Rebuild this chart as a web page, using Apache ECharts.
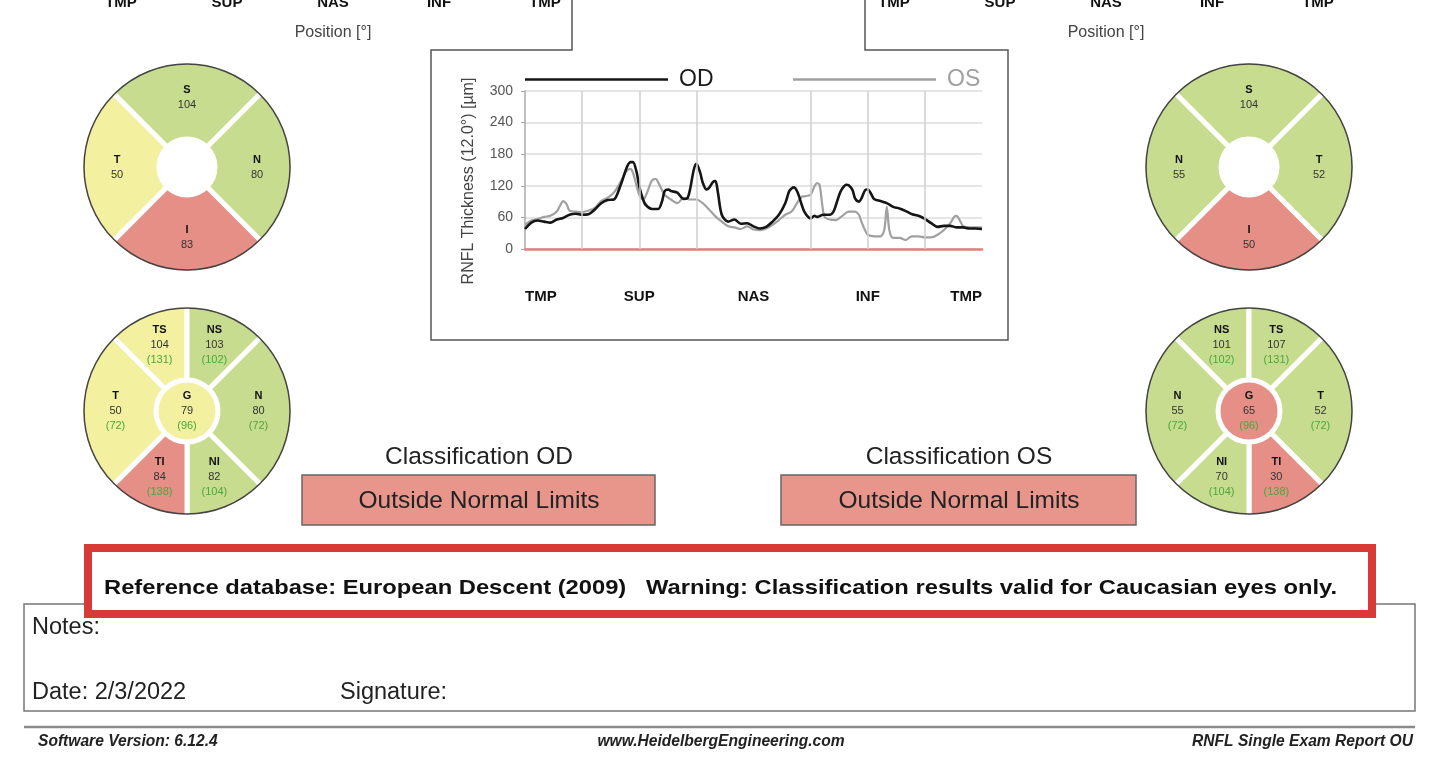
<!DOCTYPE html>
<html>
<head>
<meta charset="utf-8">
<title>RNFL Single Exam Report OU</title>
<script src="https://cdn.jsdelivr.net/npm/echarts@6/dist/echarts.min.js"></script>
<style>
  html, body { margin: 0; padding: 0; background: #fff; }
  #chart { width: 1434px; height: 758px; }
</style>
</head>
<body>
<div id="chart"></div>
<script>
// RNFL thickness profile, position in degrees (TMP-SUP-NAS-INF-TMP)
const odPos = [0,5,10,15,20,25,30,35,40,45,50,55,60,65,70,75,80,83,85,88,90,93,95,100,105,108,110,113,115,120,125,128,130,133,135,138,140,143,145,148,150,152,155,160,165,170,175,180,185,190,195,200,205,208,210,212,215,218,220,223,225,228,230,235,240,243,245,248,250,253,255,258,260,263,265,268,270,273,275,280,285,290,295,300,305,310,315,320,325,330,335,340,345,350,355,360]
const odVal = [38,50,54,52,50,56,59,65,67,65,66,75,87,93,94,119,154,165,165,145,119,94,84,76,76,91,110,113,110,107,95,97,113,151,162,145,126,113,116,127,129,107,65,52,56,48,49,43,39,42,52,65,87,109,115,117,106,84,71,61,58,63,61,65,65,71,84,106,115,122,121,112,96,90,96,112,113,103,95,91,87,80,77,72,66,63,57,49,42,44,44,41,41,39,39,38]
const osPos = [0,5,10,15,20,25,28,30,33,35,40,45,50,55,60,65,70,75,80,83,85,88,90,93,95,98,100,103,105,110,115,120,125,130,135,140,145,150,155,160,165,170,175,180,185,190,195,200,205,210,215,218,220,225,228,230,232,234,236,240,245,250,255,260,263,265,268,270,275,280,283,285,287,290,295,300,303,305,310,315,320,325,330,335,338,340,343,345,350,355,360]
const osVal = [46,54,57,61,63,71,84,91,84,73,71,70,73,78,91,97,107,126,148,152,145,119,103,94,100,119,130,133,126,103,94,87,97,94,94,87,75,62,52,43,41,38,43,37,36,39,46,55,65,71,90,99,100,103,119,125,122,87,61,56,55,63,71,71,65,52,35,27,24,24,36,80,36,21,21,17,22,24,24,22,22,27,36,49,61,63,52,44,41,41,41]
const gridPos = [45, 90, 135, 225, 270, 315]
const xTickLabels = ['TMP', 'SUP', 'NAS', 'INF', 'TMP']
const yTicks = [0, 60, 120, 180, 240, 300]

// sector diagrams (clockwise from upper-left)
const quadSpan = [90, 90, 90, 90]
const sixSpan = [45, 45, 90, 45, 45, 90]

const odQuadNames = ['S', 'N', 'I', 'T']
const odQuadVals = [104, 80, 83, 50]
const odQuadClass = ['normal', 'normal', 'outside', 'borderline']

const osQuadNames = ['S', 'T', 'I', 'N']
const osQuadVals = [104, 52, 50, 55]
const osQuadClass = ['normal', 'normal', 'outside', 'normal']

const odSixNames = ['TS', 'NS', 'N', 'NI', 'TI', 'T']
const odSixVals = [104, 103, 80, 82, 84, 50]
const odSixNorm = [131, 102, 72, 104, 138, 72]
const odSixClass = ['borderline', 'normal', 'normal', 'normal', 'outside', 'borderline']
const odGlobal = [79, 96, 'borderline']

const osSixNames = ['NS', 'TS', 'T', 'TI', 'NI', 'N']
const osSixVals = [101, 107, 52, 30, 70, 55]
const osSixNorm = [102, 131, 72, 138, 104, 72]
const osSixClass = ['normal', 'normal', 'normal', 'outside', 'normal', 'normal']
const osGlobal = [65, 96, 'outside']

const FONT = '"Liberation Sans", Arial, Helvetica, sans-serif'
const classColor = { normal: '#c8dc90', borderline: '#f3f1a0', outside: '#e58f86' }

const rich = {
  n: { fontWeight: 'bold', fontSize: 11, color: '#111', lineHeight: 15, fontFamily: FONT },
  v: { fontSize: 11, color: '#333', lineHeight: 15, fontFamily: FONT },
  g: { fontSize: 11, color: '#4aa83a', lineHeight: 15, fontFamily: FONT }
}

function sectorPie(center, inner, names, vals, norms, classes, spans) {
  return {
    type: 'pie',
    center: center,
    radius: [inner, 106],
    startAngle: 135,
    clockwise: true,
    silent: true,
    itemStyle: { borderColor: '#fff', borderWidth: 5 },
    label: {
      position: 'inside',
      formatter: p => {
        let s = '{n|' + names[p.dataIndex] + '}\n{v|' + vals[p.dataIndex] + '}'
        if (norms) s += '\n{g|(' + norms[p.dataIndex] + ')}'
        return s
      },
      rich: rich
    },
    labelLine: { show: false },
    emphasis: { disabled: true },
    data: spans.map((s, i) => ({ value: s, name: names[i], itemStyle: { color: classColor[classes[i]] } }))
  }
}

function globalPie(center, g) {
  return {
    type: 'pie',
    center: center,
    radius: [0, 28.5],
    silent: true,
    label: {
      position: 'center',
      formatter: '{n|G}\n{v|' + g[0] + '}\n{g|(' + g[1] + ')}',
      rich: rich
    },
    labelLine: { show: false },
    emphasis: { disabled: true },
    data: [{ value: 1, name: 'G', itemStyle: { color: classColor[g[2]] } }]
  }
}

function txt(x, y, text, font, fill, align, extra) {
  return Object.assign({
    type: 'text', x: x, y: y, z: 20,
    style: { text: text, font: font + ' ' + FONT, fill: fill, align: align || 'left', verticalAlign: 'middle' }
  }, extra || {})
}

const chart = echarts.init(document.getElementById('chart'))

const option = {
  animation: false,
  textStyle: { fontFamily: FONT },
  legend: [
    {
      left: 525, top: 68, padding: 0, icon: 'rect', itemWidth: 143, itemHeight: 2.5, selectedMode: false,
      textStyle: { fontSize: 23, padding: [3, 0, 0, 6] },
      data: [{ name: 'OD', textStyle: { color: '#1a1a1a' } }]
    },
    {
      left: 793, top: 68, padding: 0, icon: 'rect', itemWidth: 143, itemHeight: 2.5, selectedMode: false,
      textStyle: { fontSize: 23, padding: [3, 0, 0, 6] },
      data: [{ name: 'OS', textStyle: { color: '#a0a0a0' } }]
    }
  ],
  grid: [
    { left: 525, top: 91, width: 457, height: 158 },
    { left: 121, top: -42, width: 424, height: 30 },
    { left: 894, top: -42, width: 424, height: 30 }
  ],
  xAxis: [
    {
      gridIndex: 0, type: 'value', min: 0, max: 360, interval: 90,
      axisLine: { show: true, lineStyle: { color: '#e57f7a', width: 2.5 } },
      axisTick: { show: false },
      splitLine: { show: false },
      axisLabel: {
        formatter: v => xTickLabels[v / 90],
        fontSize: 15, fontWeight: 'bold', color: '#111', margin: 40,
        alignMinLabel: 'left', alignMaxLabel: 'right'
      }
    },
    {
      gridIndex: 1, type: 'value', min: 0, max: 360, interval: 90,
      axisLine: { show: false }, axisTick: { show: false }, splitLine: { show: false },
      axisLabel: { formatter: v => xTickLabels[v / 90], fontSize: 15, fontWeight: 'bold', color: '#111', margin: 0 },
      name: 'Position [°]', nameLocation: 'middle', nameGap: 29,
      nameTextStyle: { fontSize: 16, color: '#444' }
    },
    {
      gridIndex: 2, type: 'value', min: 0, max: 360, interval: 90,
      axisLine: { show: false }, axisTick: { show: false }, splitLine: { show: false },
      axisLabel: { formatter: v => xTickLabels[v / 90], fontSize: 15, fontWeight: 'bold', color: '#111', margin: 0 },
      name: 'Position [°]', nameLocation: 'middle', nameGap: 29,
      nameTextStyle: { fontSize: 16, color: '#444' }
    }
  ],
  yAxis: [
    {
      gridIndex: 0, type: 'value', min: yTicks[0], max: yTicks[yTicks.length - 1], interval: 60,
      axisLine: { show: true, lineStyle: { color: '#aaa', width: 1.5 } },
      axisTick: { show: true, length: 4, lineStyle: { color: '#aaa' } },
      splitLine: { lineStyle: { color: '#dcdcdc', width: 1.5 } },
      axisLabel: { fontSize: 14, color: '#555', margin: 12 }
    },
    { gridIndex: 1, show: false },
    { gridIndex: 2, show: false }
  ],
  series: [
    {
      name: 'OS', type: 'line', xAxisIndex: 0, yAxisIndex: 0,
      data: osPos.map((p, i) => [p, osVal[i]]),
      showSymbol: false, smooth: 0.3,
      lineStyle: { color: '#a0a0a0', width: 2.2 },
      itemStyle: { color: '#a0a0a0' },
      markLine: {
        silent: true, symbol: ['none', 'none'], label: { show: false },
        lineStyle: { color: '#cfcfcf', type: 'solid', width: 1.5 },
        data: gridPos.map(v => ({ xAxis: v }))
      }
    },
    {
      name: 'OD', type: 'line', xAxisIndex: 0, yAxisIndex: 0,
      data: odPos.map((p, i) => [p, odVal[i]]),
      showSymbol: false, smooth: 0.3,
      lineStyle: { color: '#151515', width: 2.6 },
      itemStyle: { color: '#151515' }
    },
    sectorPie([187, 167], 28, odQuadNames, odQuadVals, null, odQuadClass, quadSpan),
    sectorPie([1249, 167], 28, osQuadNames, osQuadVals, null, osQuadClass, quadSpan),
    sectorPie([187, 411], 31, odSixNames, odSixVals, odSixNorm, odSixClass, sixSpan),
    sectorPie([1249, 411], 31, osSixNames, osSixVals, osSixNorm, osSixClass, sixSpan),
    globalPie([187, 411], odGlobal),
    globalPie([1249, 411], osGlobal)
  ],
  graphic: [
    // frame round the thickness profile
    {
      type: 'polyline', z: 5,
      shape: { points: [[572, 0], [572, 50], [431, 50], [431, 340], [1008, 340], [1008, 50], [865, 50], [865, 0]] },
      style: { stroke: '#555', lineWidth: 1.5, fill: null }
    },
    txt(469, 181, 'RNFL Thickness (12.0°) [µm]', '16px', '#444', 'center', { rotation: Math.PI / 2 }),
    // outlines of sector diagrams
    { type: 'circle', z: 10, shape: { cx: 187, cy: 167, r: 103 }, style: { fill: null, stroke: '#444', lineWidth: 1.5 } },
    { type: 'circle', z: 10, shape: { cx: 1249, cy: 167, r: 103 }, style: { fill: null, stroke: '#444', lineWidth: 1.5 } },
    { type: 'circle', z: 10, shape: { cx: 187, cy: 411, r: 103 }, style: { fill: null, stroke: '#444', lineWidth: 1.5 } },
    { type: 'circle', z: 10, shape: { cx: 1249, cy: 411, r: 103 }, style: { fill: null, stroke: '#444', lineWidth: 1.5 } },
    // classification
    txt(479, 457, 'Classification OD', '24.5px', '#222', 'center'),
    { type: 'rect', z: 5, shape: { x: 302, y: 475, width: 353, height: 50 }, style: { fill: '#e8968c', stroke: '#666', lineWidth: 1.5 } },
    txt(479, 501, 'Outside Normal Limits', '24.5px', '#222', 'center'),
    txt(959, 457, 'Classification OS', '24.5px', '#222', 'center'),
    { type: 'rect', z: 5, shape: { x: 781, y: 475, width: 355, height: 50 }, style: { fill: '#e8968c', stroke: '#666', lineWidth: 1.5 } },
    txt(959, 501, 'Outside Normal Limits', '24.5px', '#222', 'center'),
    // notes box
    { type: 'rect', z: 4, shape: { x: 24, y: 604, width: 1391, height: 107 }, style: { fill: null, stroke: '#777', lineWidth: 1.5 } },
    txt(32, 628, 'Notes:', '23.5px', '#222'),
    txt(32, 693, 'Date: 2/3/2022', '23.5px', '#222'),
    txt(340, 693, 'Signature:', '23.5px', '#222'),
    // highlighted reference database line
    { type: 'rect', z: 6, shape: { x: 88, y: 548, width: 1284, height: 66 }, style: { fill: '#fff', stroke: '#d83a36', lineWidth: 8 } },
    txt(104, 588, 'Reference database: European Descent (2009)   Warning: Classification results valid for Caucasian eyes only.', 'bold 21px', '#111', 'left', { scaleX: 1.13 }),
    // footer
    { type: 'line', z: 5, shape: { x1: 24, y1: 727, x2: 1415, y2: 727 }, style: { stroke: '#8a8a8a', lineWidth: 2.5 } },
    txt(38, 742, 'Software Version: 6.12.4', 'italic bold 15.6px', '#222'),
    txt(721, 742, 'www.HeidelbergEngineering.com', 'italic bold 15.6px', '#222', 'center'),
    txt(1413, 742, 'RNFL Single Exam Report OU', 'italic bold 15.6px', '#222', 'right')
  ]
}

chart.setOption(option)
</script>
</body>
</html>
